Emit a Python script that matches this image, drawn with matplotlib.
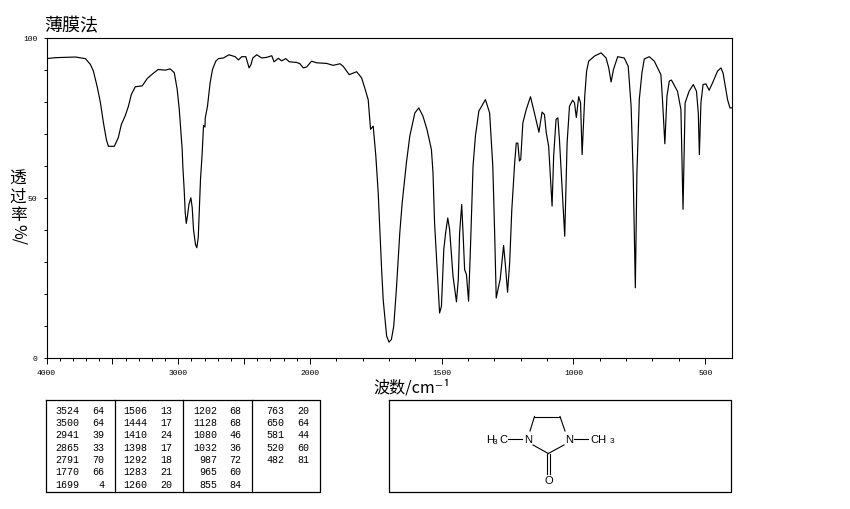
import numpy as np
import matplotlib
matplotlib.use("Agg")
import matplotlib.pyplot as plt

plt.rcParams['font.family'] = ['Noto Sans CJK SC', 'DejaVu Sans']

WN = [4000, 3932, 3780, 3705, 3667, 3644, 3614, 3591, 3568, 3545, 3530, 3485, 3455, 3432, 3402, 3379,
      3356, 3326, 3273, 3235, 3190, 3152, 3098, 3061, 3030, 3008, 2992, 2977, 2970, 2965, 2955, 2947,
      2939, 2930, 2919, 2904, 2894, 2884, 2869, 2859, 2848, 2841, 2831, 2818, 2808, 2797, 2795, 2778,
      2758, 2740, 2715, 2695, 2657, 2614, 2568, 2543, 2518, 2487, 2462, 2447, 2434, 2404, 2366, 2328,
      2290, 2273, 2240, 2215, 2184, 2157, 2101, 2076, 2051, 2025, 1994, 1975, 1937, 1912, 1886, 1874,
      1851, 1823, 1804, 1792, 1779, 1770, 1760, 1750, 1741, 1728, 1722, 1709, 1700, 1691, 1682, 1672,
      1659, 1650, 1634, 1621, 1602, 1587, 1571, 1556, 1539, 1533, 1527, 1516, 1508, 1501, 1492, 1485,
      1477, 1470, 1457, 1444, 1437, 1432, 1424, 1419, 1413, 1406, 1398, 1391, 1381, 1372, 1359, 1334,
      1318, 1306, 1299, 1293, 1285, 1278, 1265, 1259, 1250, 1242, 1234, 1223, 1217, 1211, 1205, 1200,
      1192, 1179, 1163, 1148, 1131, 1119, 1110, 1103, 1094, 1087, 1081, 1075, 1066, 1059, 1053, 1044,
      1033, 1024, 1015, 1003, 996, 989, 980, 973, 967, 962, 957, 950, 942, 920, 895, 876,
      866, 857, 848, 832, 807, 792, 781, 773, 765, 759, 750, 740, 731, 712, 693, 668,
      662, 653, 645, 636, 628, 605, 592, 584, 576, 561, 545, 533, 526, 522, 516, 508,
      497, 485, 472, 453, 440, 432, 415, 406, 400]
TRANS = [93.4, 93.7, 93.9, 93.4, 91.6, 89.5, 84.4, 79.7, 73.4, 68, 66, 66, 68.7, 72.8, 75.6, 78.4,
         82.2, 84.6, 84.9, 87.2, 88.8, 90, 89.8, 90.2, 89, 83.8, 77.5, 69, 65, 59.7, 52.5, 45.3,
         41.9, 44.2, 47.8, 49.9, 46.9, 40, 35.3, 34.3, 37.5, 45.3, 55.6, 64, 72.5, 72, 74.8, 78.5,
         85.8, 90, 92.6, 93.4, 93.6, 94.6, 94, 93, 94, 94, 90.5, 91.6, 93.6, 94.6, 93.6, 93.8,
         94.3, 92.4, 93.5, 92.7, 93.4, 92.4, 92.2, 91.8, 90.5, 90.8, 92.6, 92.1, 91.9, 91.3, 91.8, 91,
         88.4, 89.3, 87.4, 84.2, 80.6, 71.3, 72.3, 63, 51.5, 27.5, 18, 6.7, 4.8, 5.6, 9.8, 21.3,
         39, 48.3, 60.8, 69.2, 76.4, 78, 75.4, 71.3, 65, 57.7, 42, 25.4, 13.9, 16, 33.8, 39,
         43.6, 40, 25.4, 17.4, 24.4, 39, 47.8, 39, 27.5, 25.9, 17.6, 33.8, 59.8, 69.2, 77, 80.6,
         76.4, 59.8, 39, 18.6, 21.8, 24.4, 35, 29.6, 20.4, 29.6, 46, 60.8, 67, 67, 61.4, 61.9,
         73.3, 77.5, 81.5, 76.4, 70.4, 76.7, 75.9, 70.2, 66, 55.6, 47.3, 63, 74.4, 74.9, 68, 54.6,
         37.9, 67, 78.5, 80.4, 79.6, 75, 81.5, 79.6, 63.4, 72.3, 81.7, 89.5, 92.6, 94.2, 95.2, 93.6,
         90.5, 86.1, 90, 94, 93.6, 91, 78.5, 56.7, 21.8, 57.7, 80.6, 88.9, 93.3, 94, 92.6, 88.4,
         80.6, 66.8, 81.7, 86.4, 86.7, 83.2, 77.5, 46.3, 79.6, 83.2, 85.3, 83.2, 76.4, 63.4, 79.6, 85.3,
         85.5, 83.5, 85.8, 89.5, 90.5, 88.9, 80.6, 78, 78]

X_LABELED = [4000, 3000, 2000, 1500, 1000, 500]
X_MAJOR = [4000, 3500, 3000, 2500, 2000, 1500, 1000, 500]
Y_LABELED = [0, 50, 100]

PEAK_WN = [[3524, 3500, 2941, 2865, 2791, 1770, 1699],
           [1506, 1444, 1410, 1398, 1292, 1283, 1260],
           [1202, 1128, 1080, 1032, 987, 965, 855],
           [763, 650, 581, 520, 482]]
PEAK_T = [[64, 64, 39, 33, 70, 66, 4],
          [13, 17, 24, 17, 18, 21, 20],
          [68, 68, 46, 36, 72, 60, 84],
          [20, 64, 44, 60, 81]]

W, H = 850, 510
MONO = ['Liberation Mono', 'DejaVu Sans Mono']
CJK = ['Noto Sans CJK SC', 'DejaVu Sans']


def forward(x):
    x = np.asarray(x, dtype=float)
    return np.where(x > 2000, 1000 + x / 2, x)


def inverse(y):
    y = np.asarray(y, dtype=float)
    return np.where(y > 2000, (y - 1000) * 2, y)


fig = plt.figure(figsize=(W / 100, H / 100), dpi=100)

ax = fig.add_axes([46.5 / W, 1 - 358.5 / H, 685 / W, 320 / H])
ax.set_xscale('function', functions=(forward, inverse))
ax.plot(WN, TRANS, color='black', lw=0.85)
ax.set_xlim(4000, 400)
ax.set_ylim(0, 100)

ax.set_xticks(X_MAJOR)
ax.set_xticklabels([str(v) if v in X_LABELED else '' for v in X_MAJOR], family=MONO, fontsize=5.8)
ax.set_xticks(range(500, 4000, 100), minor=True)
ax.set_yticks(range(0, 101, 10))
ax.set_yticklabels([str(v) if v in Y_LABELED else '' for v in range(0, 101, 10)], family=MONO, fontsize=5.8)
ax.tick_params(axis='x', which='major', length=4, width=0.7, pad=4)
ax.tick_params(axis='x', which='minor', length=2, width=0.7)
ax.tick_params(axis='y', length=2.5, width=0.7, pad=4)
for s in ax.spines.values():
    s.set_linewidth(0.8)

# everything outside the plot is placed in pixels
over = fig.add_axes([0, 0, 1, 1])
over.axis('off')
over.patch.set_alpha(0)

over.text(44.5, 26.5, '薄膜法', family=CJK, fontsize=13, ha='left', va='center')
for ch, yy in zip('透过率', [179, 197, 216]):
    over.text(18, yy, ch, family=CJK, fontsize=12, ha='center', va='center')
over.text(18, 235, '%/', family=CJK, fontsize=11.5, rotation=270, ha='center', va='center')
over.text(373, 388, '波数/cm⁻¹', family=CJK, fontsize=11.6, ha='left', va='center')

# peak table
over.plot([46, 320, 320, 46, 46], [401, 401, 493, 493, 401], color='black', lw=0.9)
for xx in [115, 183, 252]:
    over.plot([xx, xx], [401, 493], color='black', lw=0.9)
row_y = [411, 423, 435.5, 448, 460, 472.5, 485]
wn_right = [79.5, 147.5, 217, 284]
t_right = [104.5, 172.5, 241, 309.5]
for c in range(4):
    for r, (a, b) in enumerate(zip(PEAK_WN[c], PEAK_T[c])):
        over.text(wn_right[c], row_y[r], str(a), family=MONO, fontsize=7.2, ha='right', va='center')
        over.text(t_right[c], row_y[r], str(b), family=MONO, fontsize=7.2, ha='right', va='center')

# structure panel
over.plot([389.5, 731.5, 731.5, 389.5, 389.5], [401, 401, 493, 493, 401], color='black', lw=0.9)
bonds = [((508, 440), (522.5, 440)), ((530, 432), (534.5, 417.5)), ((534.5, 417.5), (560, 417.5)),
         ((560, 417.5), (565, 432)), ((533, 446), (548.3, 454.5)), ((548.3, 454.5), (564, 446)),
         ((574, 440), (588, 440)), ((547.2, 455), (547.2, 475)), ((550, 455), (550, 475))]
for p, q in bonds:
    over.plot([p[0], q[0]], [p[1], q[1]], color='black', lw=0.8)
SANS = ['Liberation Sans', 'DejaVu Sans']
over.text(528.3, 440, 'N', family=SANS, fontsize=8, ha='center', va='center')
over.text(569.3, 440, 'N', family=SANS, fontsize=8, ha='center', va='center')
over.text(548.5, 481, 'O', family=SANS, fontsize=8, ha='center', va='center')
over.text(486, 440, 'H', family=SANS, fontsize=8, ha='left', va='center')
over.text(493, 443, '3', family=SANS, fontsize=6, ha='left', va='center')
over.text(499, 440, 'C', family=SANS, fontsize=8, ha='left', va='center')
over.text(590, 440, 'CH', family=SANS, fontsize=8, ha='left', va='center')
over.text(610, 442, '3', family=SANS, fontsize=6, ha='left', va='center')
over.set_xlim(0, W)
over.set_ylim(H, 0)

fig.savefig('out.png', dpi=100)
